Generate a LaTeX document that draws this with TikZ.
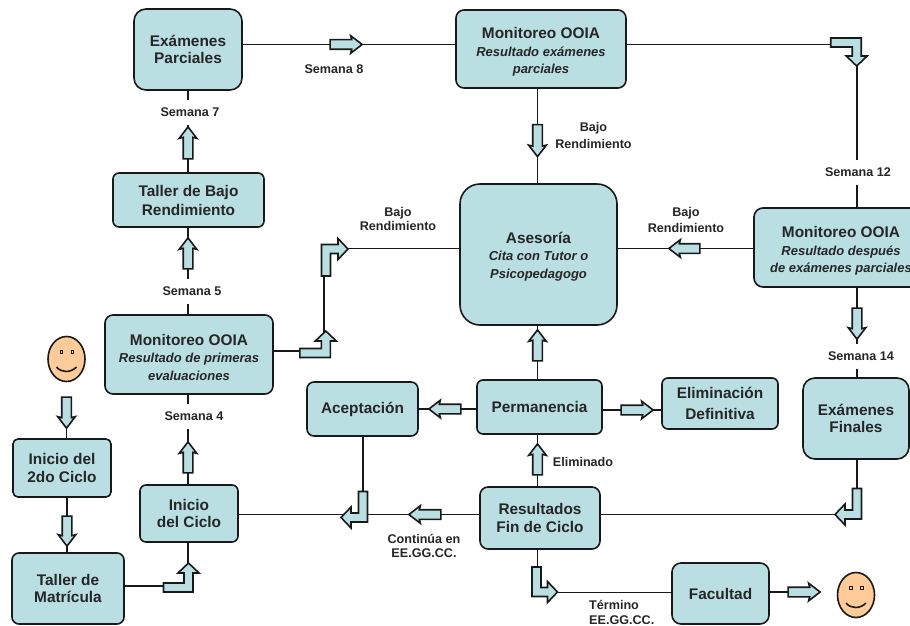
\documentclass[tikz,border=0pt]{standalone}
\usepackage{fontspec}
\setmainfont{Liberation Sans}
\usetikzlibrary{shapes.arrows,shapes.geometric}
\definecolor{celeste}{HTML}{B9DFE3}
\definecolor{piel}{HTML}{FFCC99}
\newcommand{\subt}{\fontsize{13}{16.5}\selectfont\itshape}
\newcommand{\bajar}[1]{\rule{0pt}{#1pt}}
\newcommand{\bentarrow}[5]{%
\coordinate (#1) at (#2);
\draw[trazo,fill=celeste,shift={(#2)},#3] (-#4,-4.5) -- (-4.5,-4.5) -- (-4.5,{-#5+10}) -- (-10.5,{-#5+10}) -- (0,-#5) -- (10.5,{-#5+10}) -- (4.5,{-#5+10}) -- (4.5,4.5) -- (-#4,4.5) -- cycle;}
\newcommand{\carita}[3]{%
\node[trazo,draw,ellipse,fill=piel,inner sep=0,minimum width=37,minimum height=45] (#1) at (#2,#3) {};
\draw[trazo,shift={(#2,#3)},line width=1pt] (-6.5,-8.5) rectangle (-4,-6) (4.5,-8.5) rectangle (7,-6);
\draw[trazo,shift={(#2,#3)}] (-10,8) .. controls (-5,14) and (4,14) .. (10,8);}
\tikzset{
trazo/.style={line width=1.6pt,black!90},
caja/.style={trazo,draw,fill=celeste,align=center,inner sep=0,text=black!85,font=\fontsize{15.4}{17.5}\selectfont\bfseries},
etiq/.style={inner sep=0,align=center,text=black!85,font=\fontsize{12.6}{14.5}\selectfont\bfseries},
sem/.style={etiq,fill=white,minimum height=25,minimum width=60},
flecha/.style={trazo,draw,fill=celeste,single arrow,inner sep=4,minimum width=16,single arrow head extend=4,single arrow tip angle=75,single arrow head indent=1,minimum height=#1}
}
\begin{document}
\begin{tikzpicture}[x=1pt,y=-1pt]
\useasboundingbox (0,0) rectangle (910,626);
% cajas
\node[caja,minimum width=108,minimum height=81,rounded corners=12] (exParc) at (188,49.5) {Exámenes\\Parciales};
\node[caja,minimum width=170,minimum height=78,rounded corners=8] (mon1) at (541,49) {\bajar{17}Monitoreo OOIA\\\subt Resultado exámenes\\\subt parciales};
\node[caja,minimum width=151,minimum height=54,rounded corners=6] (tallerB) at (188.5,200) {Taller de Bajo\\[1.5pt]Rendimiento};
\node[caja,minimum width=157,minimum height=141,rounded corners=20] (ases) at (538.5,254.5) {\bajar{15}Asesoría\\\subt Cita con Tutor o\\\subt Psicopedagogo};
\node[caja,minimum width=174,minimum height=79,rounded corners=9] (mon2) at (841,247.5) {\bajar{18}Monitoreo OOIA\\\subt Resultado después\\\subt de exámenes parciales};
\node[caja,minimum width=168,minimum height=79,rounded corners=8] (mon3) at (189,354.5) {\bajar{17}Monitoreo OOIA\\\subt Resultado de primeras\\\subt evaluaciones};
\node[caja,minimum width=111,minimum height=54,rounded corners=7] (acept) at (362.5,409) {Aceptación};
\node[caja,minimum width=125,minimum height=54,rounded corners=6] (perm) at (539.5,407) {Permanencia};
\node[caja,minimum width=116,minimum height=51,rounded corners=6] (elim) at (720,403.5) {Eliminación\\[3pt]Definitiva};
\node[caja,minimum width=106,minimum height=81,rounded corners=12] (exFin) at (856,418.5) {Exámenes\\Finales};
\node[caja,minimum width=98,minimum height=58,rounded corners=5] (ini2) at (62,468) {Inicio del\\2do Ciclo};
\node[caja,minimum width=98,minimum height=57,rounded corners=6] (iniC) at (189,513.5) {Inicio\\del Ciclo};
\node[caja,minimum width=120,minimum height=62,rounded corners=8] (result) at (540,518) {Resultados\\Fin de Ciclo};
\node[caja,minimum width=112,minimum height=71,rounded corners=7] (tallerM) at (68,588.5) {Taller de\\Matrícula};
\node[caja,minimum width=97,minimum height=61,rounded corners=9] (facul) at (720.5,593.5) {Facultad};
\carita{cara1}{66.5}{359}
\carita{cara2}{856}{595}
% puntos de paso
\coordinate (c1) at (188,586);
\coordinate (c2) at (324,351);
\coordinate (c3) at (857,44.5);
\coordinate (c4) at (857,514.5);
\coordinate (c5) at (537.5,592.5);
\coordinate (c6) at (362.7,514.5);
% flechas rectas
\foreach \n/\x/\y/\r/\l in {A/66.5/409.5/270/31,B/67/528/270/30,C/188/460.5/90/31,D/188/256.5/90/31,E/188/146/90/32,F/343/44.5/0/32,G/537.5/137.5/270/32,H/687.5/248.5/180/31,I/857/320.5/270/31,J/537.5/348.5/90/31,K/537.5/462.5/90/31,L/448/409/180/32,M/634/410/0/32,N/428/514.5/180/32,O/801/592/0/32}
\coordinate (f\n) at (\x,\y);
% lineas
\draw[trazo] (fA) -- (fA |- ini2.north);
\draw[trazo] (fB |- ini2.south) -- (fB |- tallerM.north);
\draw[trazo] (tallerM.east |- c1) -- (c1) -- (c1 |- iniC.south);
\draw[trazo] (fC |- iniC.north) -- (fC |- mon3.south);
\draw[trazo] (fD |- mon3.north) -- (fD |- tallerB.south);
\draw[trazo] (fE |- tallerB.north) -- (fE |- exParc.south);
\draw[trazo] (exParc.east |- fF) -- (mon1.west |- fF);
\draw[trazo] (mon1.east |- c3) -- (c3) -- (c3 |- mon2.north);
\draw[trazo] (fG |- mon1.south) -- (fG |- ases.north);
\draw[trazo] (mon2.west |- fH) -- (ases.east |- fH);
\draw[trazo] (fI |- mon2.south) -- (fI |- exFin.north);
\draw[trazo] (mon3.east |- c2) -- (c2) -- (c2 |- fH) -- (ases.west |- fH);
\draw[trazo] (fJ |- perm.north) -- (fJ |- ases.south);
\draw[trazo] (fK |- result.north) -- (fK |- perm.south);
\draw[trazo] (perm.west |- fL) -- (acept.east |- fL);
\draw[trazo] (perm.east |- fM) -- (elim.west |- fM);
\draw[trazo] (c4 |- exFin.south) -- (c4) -- (result.east |- c4);
\draw[trazo] (result.west |- fN) -- (iniC.east |- fN);
\draw[trazo] (c6 |- acept.south) -- (c6);
\draw[trazo] (c5 |- result.south) -- (c5) -- (facul.west |- c5);
\draw[trazo] (facul.east |- fO) -- (fO);
% etiquetas
\node[sem] (s4) at (194,416) {Semana 4};
\node[sem] (s5) at (192,291) {Semana 5};
\node[sem] (s7) at (190,112) {Semana 7};
\node[etiq] (s8) at (334,69) {Semana 8};
\node[sem] (s12) at (858,172.5) {Semana 12};
\node[sem] (s14) at (861,356) {Semana 14};
\node[etiq] (b1) at (593.5,135.5) {Bajo\\[2pt]Rendimiento};
\node[etiq] (b2) at (398,219) {Bajo\\Rendimiento};
\node[etiq] (b3) at (686,220) {Bajo\\[1pt]Rendimiento};
\node[etiq] (elimi) at (583,462) {Eliminado};
\node[etiq] (cont) at (424,546) {Continúa en\\EE.GG.CC.};
\node[etiq,align=left,anchor=west] (term) at (589,612.5) {Término\\EE.GG.CC.};
% flechas
\foreach \n/\x/\y/\r/\l in {A/66.5/409.5/270/31,B/67/528/270/30,C/188/460.5/90/31,D/188/256.5/90/31,E/188/146/90/32,F/343/44.5/0/32,G/537.5/137.5/270/32,H/687.5/248.5/180/31,I/857/320.5/270/31,J/537.5/348.5/90/31,K/537.5/462.5/90/31,L/448/409/180/32,M/634/410/0/32,N/428/514.5/180/32,O/801/592/0/32}
\node[flecha=\l,shape border rotate=\r] (g\n) at (\x,\y) {};
\bentarrow{b1c}{188.5,587.5}{}{25}{24.5}
\bentarrow{b2c}{326,249}{rotate=-90,xscale=-1}{27}{22}
\bentarrow{b3c}{856.7,42.5}{yscale=-1}{26}{23.5}
\bentarrow{b4c}{857,514.5}{rotate=90,xscale=-1}{26}{22}
\bentarrow{b5c}{363,517.5}{rotate=90,xscale=-1}{26}{22}
\bentarrow{b6c}{536.5,592}{rotate=-90}{25}{21}
\bentarrow{b7c}{325.8,353}{}{26}{22}
\end{tikzpicture}
\end{document}
